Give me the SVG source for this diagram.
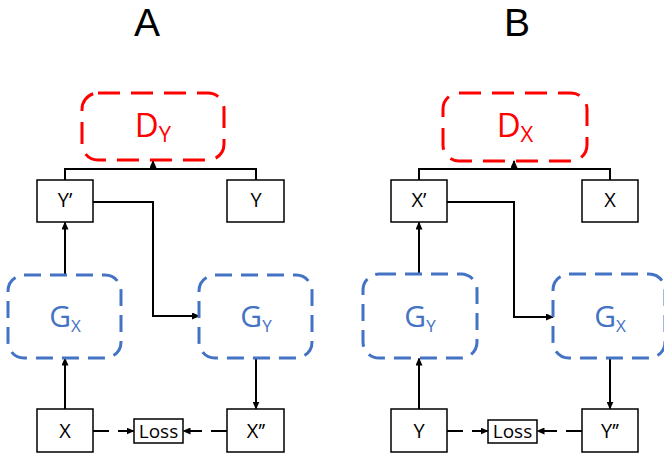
<svg xmlns="http://www.w3.org/2000/svg" width="664" height="454" viewBox="0 0 664 454">
<style>
.title{font-family:"Liberation Sans",Arial,sans-serif;font-size:39px;fill:#000;text-anchor:middle}
.box{fill:#fff;stroke:#000;stroke-width:1.5}
.lbl{font-family:"Open Sans","Liberation Sans",sans-serif;font-size:20px;fill:#000;text-anchor:middle}
.loss{font-family:"Open Sans","Liberation Sans",sans-serif;font-size:19px;fill:#000;text-anchor:middle}
.d{fill:none;stroke:#FF0000;stroke-width:3;stroke-dasharray:22,11}
.g{fill:none;stroke:#4472C4;stroke-width:3;stroke-dasharray:17,9}
.dt{font-family:"Open Sans","Liberation Sans",sans-serif;font-size:33px;fill:#FF0000;text-anchor:middle}
.gt{font-family:"Open Sans","Liberation Sans",sans-serif;font-size:30px;fill:#4472C4;text-anchor:middle}
.c{fill:none;stroke:#000;stroke-width:2}
.dash{stroke-dasharray:16,9}
</style>
<defs>
<marker id="ah" markerWidth="8" markerHeight="7" refX="7" refY="3.5" orient="auto" markerUnits="userSpaceOnUse">
<path d="M0,0 L8,3.5 L0,7 z" fill="#000"/>
</marker>
</defs>
<text class="title" x="147" y="35.5">A</text>
<text class="title" x="517" y="35.5">B</text>

<g id="connectors">
<!-- Panel A -->
<path class="c" d="M65,180 V169 H256 V180"/>
<path class="c" d="M153,169 V161" marker-end="url(#ah)"/>
<path class="c" d="M93,202 H153 V316 H199" marker-end="url(#ah)"/>
<path class="c" d="M65,275 V222.5" marker-end="url(#ah)"/>
<path class="c" d="M65,409 V358.5" marker-end="url(#ah)"/>
<path class="c" d="M256,358 V408.5" marker-end="url(#ah)"/>
<path class="c dash" d="M93,431 H133.5" marker-end="url(#ah)"/>
<path class="c dash" d="M227,431 H183.5" marker-end="url(#ah)"/>
<!-- Panel B -->
<path class="c" d="M419,180 V169 H610 V180"/>
<path class="c" d="M514,169 V161" marker-end="url(#ah)"/>
<path class="c" d="M447,202 H514 V317 H553" marker-end="url(#ah)"/>
<path class="c" d="M419,274 V222.5" marker-end="url(#ah)"/>
<path class="c" d="M419,409 V358.5" marker-end="url(#ah)"/>
<path class="c" d="M610,358 V408.5" marker-end="url(#ah)"/>
<path class="c dash" d="M447,431 H487.5" marker-end="url(#ah)"/>
<path class="c dash" d="M582,431 H537.5" marker-end="url(#ah)"/>
</g>

<!-- Panel A nodes -->
<g id="DY">
<rect class="d" x="82" y="93" width="142" height="67" rx="16"/>
<text class="dt" x="153" y="137">D<tspan font-size="22" dy="5">Y</tspan></text>
</g>
<g id="Yprime">
<rect class="box" x="37" y="180" width="56" height="42"/>
<text class="lbl" x="65" y="207">Y’</text>
</g>
<g id="Yreal">
<rect class="box" x="227" y="180" width="57" height="42"/>
<text class="lbl" x="256" y="207">Y</text>
</g>
<g id="GX_A">
<rect class="g" x="8" y="275" width="113" height="83" rx="16"/>
<text class="gt" x="65" y="327">G<tspan font-size="17" dy="5">X</tspan></text>
</g>
<g id="GY_A">
<rect class="g" x="199" y="275" width="113" height="83" rx="16"/>
<text class="gt" x="256" y="327">G<tspan font-size="17" dy="5">Y</tspan></text>
</g>
<g id="X_A">
<rect class="box" x="37" y="409" width="56" height="43"/>
<text class="lbl" x="65" y="438">X</text>
</g>
<g id="Xdd">
<rect class="box" x="227" y="409" width="57" height="43"/>
<text class="lbl" x="256" y="438">X’’</text>
</g>
<g id="Loss_A">
<rect class="box" x="134" y="419" width="49" height="24"/>
<text class="loss" x="158.5" y="438">Loss</text>
</g>

<!-- Panel B nodes -->
<g id="DX">
<rect class="d" x="443" y="93" width="144" height="68" rx="16"/>
<text class="dt" x="515" y="137">D<tspan font-size="22" dy="5">X</tspan></text>
</g>
<g id="Xprime">
<rect class="box" x="391" y="180" width="56" height="42"/>
<text class="lbl" x="419" y="207">X’</text>
</g>
<g id="Xreal">
<rect class="box" x="582" y="180" width="56" height="42"/>
<text class="lbl" x="610" y="207">X</text>
</g>
<g id="GY_B">
<rect class="g" x="363" y="274" width="114" height="84" rx="16"/>
<text class="gt" x="420" y="327">G<tspan font-size="17" dy="5">Y</tspan></text>
</g>
<g id="GX_B">
<rect class="g" x="553" y="274" width="112" height="84" rx="16"/>
<text class="gt" x="610" y="327">G<tspan font-size="17" dy="5">X</tspan></text>
</g>
<g id="Y_B">
<rect class="box" x="391" y="409" width="56" height="43"/>
<text class="lbl" x="419" y="438">Y</text>
</g>
<g id="Ydd">
<rect class="box" x="582" y="409" width="56" height="43"/>
<text class="lbl" x="610" y="438">Y’’</text>
</g>
<g id="Loss_B">
<rect class="box" x="488" y="420" width="49" height="23"/>
<text class="loss" x="512.5" y="438">Loss</text>
</g>
</svg>
